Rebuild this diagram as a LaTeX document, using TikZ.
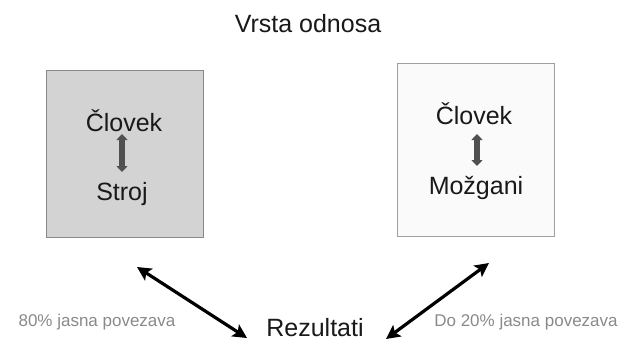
\documentclass[tikz,border=0pt]{standalone}
\usepackage{fontspec}
\setmainfont{Liberation Sans}
\usetikzlibrary{arrows.meta}
\definecolor{boxgray}{HTML}{D3D3D3}
\definecolor{boxline}{HTML}{888888}
\definecolor{boxlight}{HTML}{FAFAFA}
\definecolor{boxlightline}{HTML}{A0A0A0}
\definecolor{arrgray}{HTML}{505050}
\definecolor{labgray}{HTML}{8A8A8A}
\tikzset{
  bigtext/.style={font=\fontsize{25}{28}\selectfont, inner sep=0pt, text=black!90},
  smalltext/.style={font=\fontsize{17}{20}\selectfont, inner sep=0pt, text=labgray},
  innerarrow/.style={draw=arrgray, line width=6pt, {Triangle[width=11pt,length=6pt]}-{Triangle[width=11pt,length=6pt]}},
  mainarrow/.style={draw=black, line width=3.2pt, {Stealth[width=14pt,length=14pt,inset=3pt]}-{Stealth[width=14pt,length=14pt,inset=3pt]}},
}
\begin{document}
\begin{tikzpicture}[x=1pt,y=-1pt]
\useasboundingbox (0,0) rectangle (625,341);
\fill[white] (0,0) rectangle (625,341);
% title
\node[bigtext] (title) at (308,24) {Vrsta odnosa};
% boxes
\node[draw=boxline, fill=boxgray, line width=1.5pt, minimum width=157pt, minimum height=167pt, inner sep=0pt] (boxL) at (125,154) {};
\node[draw=boxlightline, fill=boxlight, line width=1.5pt, minimum width=157pt, minimum height=173pt, inner sep=0pt] (boxR) at (476,150) {};
% left box content
\node[bigtext] (cl) at (124,121) {Človek};
\node[bigtext] (st) at (122,194) {Stroj};
\coordinate (clA) at (122,134);
\coordinate (stA) at (122,172);
\draw[innerarrow] (clA) -- (stA);
% right box content
\node[bigtext] (cr) at (474,114) {Človek};
\node[bigtext] (mo) at (476,188) {Možgani};
\coordinate (crA) at (477,134);
\coordinate (moA) at (477,166);
\draw[innerarrow] (crA) -- (moA);
% results
\node[bigtext] (rez) at (315,328) {Rezultati};
\coordinate (lTop) at (137,267);
\coordinate (lBot) at (247,338);
\coordinate (rTop) at (489,263);
\coordinate (rBot) at (386,339);
\draw[mainarrow] (lTop) -- (lBot);
\draw[mainarrow] (rTop) -- (rBot);
% labels
\node[smalltext] (lab1) at (97,322) {80\% jasna povezava};
\node[smalltext] (lab2) at (526,322) {Do 20\% jasna povezava};
\end{tikzpicture}
\end{document}
